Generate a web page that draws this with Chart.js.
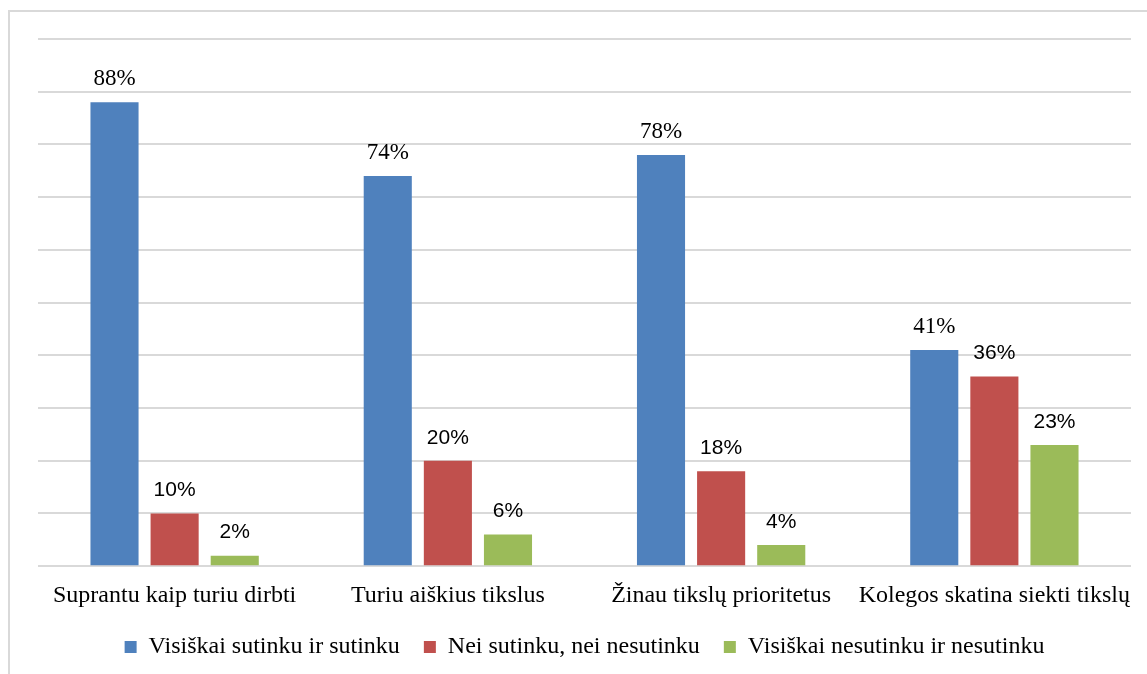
<!DOCTYPE html>
<html>
<head>
<meta charset="utf-8">
<script src="https://cdn.jsdelivr.net/npm/chart.js@4"></script>
<style>
    html, body { margin: 0; padding: 0; background: #fff; overflow: hidden; }
    #wrap { position: relative; width: 1147px; height: 674px; }
    #frame {
        position: absolute; left: 8px; top: 10px; width: 1200px; height: 700px;
        border-left: 2px solid #d9d9d9; border-top: 2px solid #d9d9d9;
    }
    canvas { position: absolute; left: 0; top: 0; }
</style>
</head>
<body>
<div id="wrap">
    <div id="frame"></div>
    <canvas id="goalsChart" width="1147" height="674"></canvas>
</div>
<script>
const categories = [
    'Suprantu kaip turiu dirbti',
    'Turiu aiškius tikslus',
    'Žinau tikslų prioritetus',
    'Kolegos skatina siekti tikslų'
];
const seriesNames = [
    'Visiškai sutinku ir sutinku',
    'Nei sutinku, nei nesutinku',
    'Visiškai nesutinku ir nesutinku'
];
const agree = [88, 74, 78, 41];
const neutral = [10, 20, 18, 36];
const disagree = [2, 6, 4, 23];
const colors = ['#4f81bd', '#c0504d', '#9bbb59'];
const labelFonts = [
    'normal 23px "Liberation Serif", "Times New Roman", serif',
    'normal 21px "Liberation Sans", Arial, sans-serif',
    'normal 21px "Liberation Sans", Arial, sans-serif'
];

// value labels drawn above each bar
const valueLabels = {
    id: 'valueLabels',
    afterDraw(chart) {
        const ctx = chart.ctx;
        ctx.save();
        ctx.fillStyle = '#000';
        ctx.textAlign = 'center';
        ctx.textBaseline = 'middle';
        chart.data.datasets.forEach((ds, i) => {
            ctx.font = labelFonts[i];
            chart.getDatasetMeta(i).data.forEach((bar, j) => {
                ctx.fillText(ds.data[j] + '%', bar.x, bar.y - 23);
            });
        });
        ctx.restore();
    }
};

new Chart(document.getElementById('goalsChart'), {
    type: 'bar',
    data: {
        labels: categories,
        datasets: [
            { label: seriesNames[0], data: agree, backgroundColor: colors[0] },
            { label: seriesNames[1], data: neutral, backgroundColor: colors[1] },
            { label: seriesNames[2], data: disagree, backgroundColor: colors[2] }
        ]
    },
    options: {
        responsive: false,
        animation: false,
        categoryPercentage: 0.66,
        barPercentage: 0.8,
        layout: { padding: { left: 38, right: 16, top: 39, bottom: 5 } },
        plugins: {
            legend: {
                position: 'bottom',
                labels: {
                    boxWidth: 12,
                    boxHeight: 12,
                    padding: 24,
                    color: '#000',
                    font: { family: '"Liberation Serif", "Times New Roman", serif', size: 24 }
                }
            },
            tooltip: { enabled: false }
        },
        scales: {
            x: {
                grid: { display: false },
                border: { display: false },
                ticks: {
                    color: '#000',
                    padding: 7,
                    maxRotation: 0,
                    autoSkip: false,
                    font: { family: '"Liberation Serif", "Times New Roman", serif', size: 24 }
                },
                afterFit(scale) { scale.height -= 6; }
            },
            y: {
                min: 0,
                max: 100,
                ticks: { display: false, stepSize: 10 },
                grid: { color: '#d9d9d9', lineWidth: 2, drawTicks: false },
                border: { display: false }
            }
        }
    },
    plugins: [valueLabels]
});
</script>
</body>
</html>
